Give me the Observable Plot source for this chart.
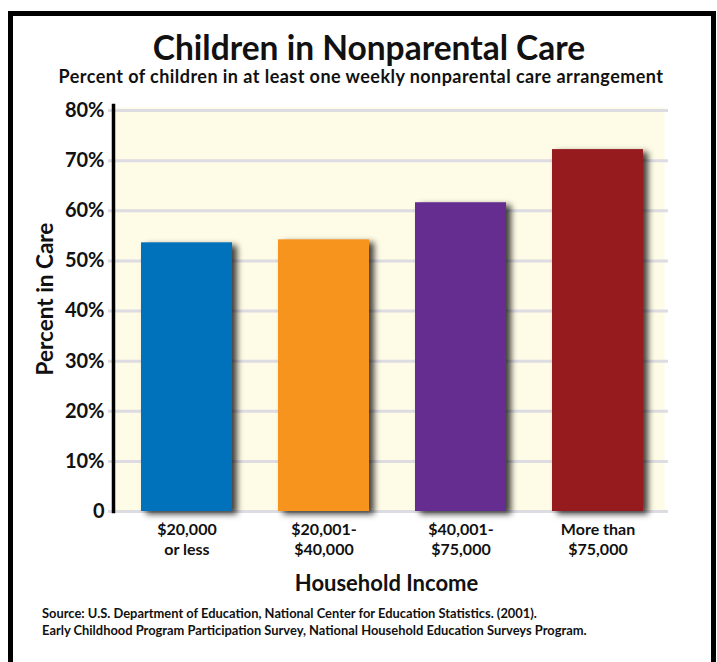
<!DOCTYPE html>
<html>
<head>
<meta charset="utf-8">
<script src="https://cdn.jsdelivr.net/npm/d3@7"></script>
<script src="https://cdn.jsdelivr.net/npm/@observablehq/plot@0.6"></script>
<style>
  html, body { margin: 0; padding: 0; background: #fff; }
  body { width: 717px; height: 662px; position: relative; overflow: hidden; font-family: Lato, "DejaVu Sans", sans-serif; color: #111; }
  #frame { position: absolute; left: 8px; top: 11px; width: 698px; height: 700px; border: 5px solid #000; border-bottom: none; }
  #title { position: absolute; left: 8px; width: 722px; top: 28px; text-align: center; font-size: 33.5px; font-weight: 700; line-height: 38px; }
  #subtitle { position: absolute; left: 0; width: 722px; top: 65px; text-align: center; font-size: 18px; font-weight: 700; line-height: 22px; letter-spacing: 0.45px; }
  #chart { position: absolute; left: 0; top: 90px; }
  #caption { position: absolute; left: 42px; top: 605px; font-size: 12.9px; font-weight: 700; line-height: 17px; }
</style>
</head>
<body>
<div id="frame"></div>
<div id="title">Children in Nonparental Care</div>
<div id="subtitle">Percent of children in at least one weekly nonparental care arrangement</div>
<div id="chart"></div>
<div id="caption">Source: U.S. Department of Education, National Center for Education Statistics. (2001).<br>Early Childhood Program Participation Survey, National Household Education Surveys Program.</div>
<script>
const categories = ["$20,000\nor less", "$20,001-\n$40,000", "$40,001-\n$75,000", "More than\n$75,000"];
const values = [53.6, 54.2, 61.6, 72.2];
const colors = ["#0071bb", "#f7941e", "#662d91", "#961b1e"];
const yTicks = [0, 10, 20, 30, 40, 50, 60, 70, 80];
const xLabel = "Household Income";
const yLabel = "Percent in Care";

const data = categories.map((c, i) => ({category: c, value: values[i]}));

const chart = Plot.plot({
  width: 717,
  height: 510,
  marginTop: 20,
  marginBottom: 89,
  marginLeft: 116,
  marginRight: 49,
  style: {fontFamily: "Lato, 'DejaVu Sans', sans-serif", color: "#111", background: "transparent"},
  x: {domain: categories, paddingInner: 0.333, paddingOuter: 0.1667, label: null},
  y: {domain: [0, 80], label: null},
  color: {domain: categories, range: colors},
  marks: [
    Plot.frame({fill: "#fefbe6", stroke: null, insetTop: -3, insetLeft: -3, insetRight: 4}),
    Plot.ruleY(yTicks, {stroke: "#dcdce2", strokeWidth: 3, insetLeft: -8}),
    Plot.barY(data, {x: "category", y: "value", fill: "category"}),
    Plot.frame({anchor: "left", stroke: "#000", strokeWidth: 3.5, insetLeft: -3, insetTop: -5}),
    Plot.axisY({ticks: yTicks, tickFormat: d => d === 0 ? "0" : d + "%", tickSize: 0, tickPadding: 12, fontSize: 20, fontWeight: "bold", label: null}),
    Plot.axisX({tickSize: 0, tickPadding: 9, fontSize: 16, fontWeight: "bold", lineHeight: 1.25, label: null}),
    Plot.text([yLabel], {frameAnchor: "left", textAnchor: "middle", dx: -71, dy: -12, rotate: -90, fontSize: 22.5, fontWeight: "bold", fill: "#111"}),
    Plot.text([xLabel], {frameAnchor: "bottom", dx: -6, dy: 79, fontSize: 22, fontWeight: "bold", fill: "#111"})
  ]
});
d3.select(chart).selectAll("g[aria-label='bar'] rect").style("filter", "drop-shadow(5px 3px 3px rgba(0,0,0,0.75))");
document.getElementById("chart").appendChild(chart);
</script>
</body>
</html>
